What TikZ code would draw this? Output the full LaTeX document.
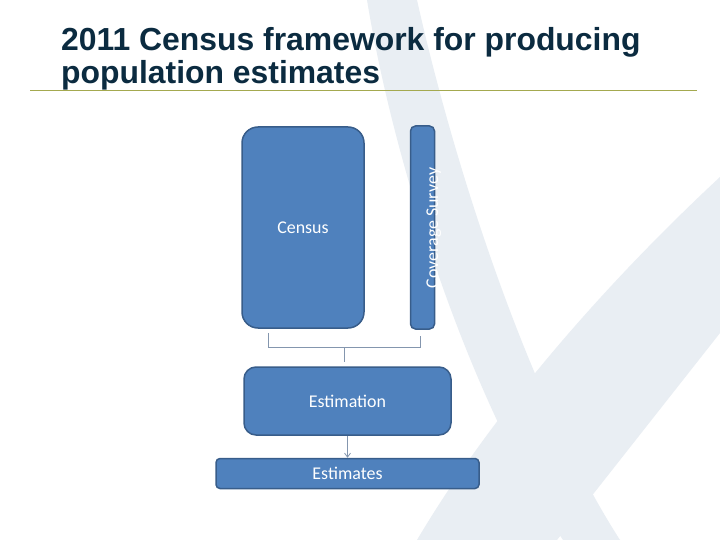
\documentclass[tikz,border=0pt]{standalone}
\usepackage{fontspec}
\usepackage{tikz}
\usetikzlibrary{positioning,arrows.meta}
\newfontfamily\headfont{Liberation Sans}
\newfontfamily\boxfont{Carlito}
\definecolor{ttlNavy}{HTML}{0B2B40}
\definecolor{ruleOlive}{HTML}{A4A94F}
\definecolor{boxBlue}{HTML}{4F81BD}
\definecolor{boxBlueDk}{HTML}{385D8A}
\definecolor{wmGrey}{HTML}{E9EEF3}
\definecolor{linkGrey}{HTML}{8496AE}
\tikzset{
  blocknode/.style={draw=boxBlueDk, fill=boxBlue, line width=1.5bp, text=white,
                    font=\boxfont\fontsize{18}{20}\selectfont, inner sep=0pt},
  censusbox/.style={blocknode, rounded corners=16bp, minimum width=122bp,
                    minimum height=201bp},
  surveybox/.style={blocknode, rounded corners=5bp, minimum width=24bp,
                    minimum height=203bp},
  estimbox/.style={blocknode, rounded corners=12bp, minimum width=207bp,
                   minimum height=68bp},
  outbox/.style={blocknode, rounded corners=4bp, minimum width=263bp,
                 minimum height=30bp},
  surveytext/.style={text=white, font=\boxfont\fontsize{18}{20}\selectfont,
                     inner sep=0pt},
  titletext/.style={text=ttlNavy, font=\headfont\bfseries\fontsize{32}{34}\selectfont,
                    align=left, inner sep=0pt},
  titlerule/.style={draw=ruleOlive, line width=0.8bp},
  linkline/.style={draw=linkGrey, line width=0.8bp},
  flowarrow/.style={linkline, -{Straight Barb[length=4bp, width=6bp]}},
  watermark/.style={fill=wmGrey},
}
\begin{document}
\begin{tikzpicture}[x=1bp, y=-1bp]
\useasboundingbox (0,0) rectangle (720,540);
\fill[white] (0,0) rectangle (720,540);

%% Watermark
\fill[watermark] (367,0) .. controls (395,170) and (470,400) .. (563,540)
  -- (620,540) .. controls (530,400) and (455,170) .. (417,0) -- cycle;
\fill[watermark] (720,177) -- (720,333) -- (557,540) -- (417,540)
  .. controls (500,400) and (620,270) .. (720,177) -- cycle;

%% Title
\draw[titlerule] (30,90) -- (697,90);
\node[titletext, anchor=base west] (title) at (61,84)
  {2011 Census framework for producing\\population estimates};

%% Sources
\node[censusbox] (census) at (303,227.5) {Census};
\node[surveybox, right=45bp of census] (covbox) {};
\node[surveytext, rotate=90, anchor=base] (covlbl) at (438,228) {Coverage Survey};

%% Estimation
\node[estimbox] (estim) at (347.5,401) {Estimation};
\node[outbox, below=22bp of estim] (estims) {Estimates};

%% Links
\coordinate (brL) at (268,347);
\coordinate (brR) at (420,347);
\coordinate (brM) at (344,347);
\draw[linkline, shorten <=4bp, shorten >=6bp]
  (census.south -| brL) -- (brL) -- (brR) -- (covbox.south -| brR);
\draw[linkline, shorten >=4bp] (brM) -- (estim.north -| brM);
\draw[flowarrow] (estim) -- (estims);
\end{tikzpicture}
\end{document}
